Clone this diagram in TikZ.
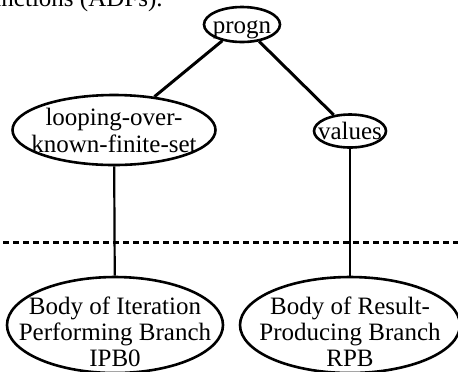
\documentclass[tikz,border=0pt]{standalone}
\usepackage{fontspec}
\setmainfont{Liberation Serif}
\usetikzlibrary{shapes.geometric}

\begin{document}
\begin{tikzpicture}[x=0.5pt, y=-0.5pt,
  fn/.style={draw=black, line width=1.3pt, shape=ellipse, inner sep=0pt},
  txt/.style={inner sep=0pt, align=center, font=\fontsize{12.5}{13.5}\selectfont},
  branch/.style={line width=1.5pt},
  body/.style={line width=1.1pt}]
\useasboundingbox (0, 0) rectangle (458, 371);

\path (163, 6) node[txt, anchor=base east] (adfs) {functions (ADFs).};

\path (242, 24.5) node[fn, minimum width=38pt, minimum height=17.5pt, label={[txt, yshift=-2.5pt]center:progn}] (progn) {};
\path (114, 130) node[fn, minimum width=101.5pt, minimum height=35pt, label={[txt]center:looping-over-\\known-finite-set}] (loop) {};
\path (350, 131) node[fn, minimum width=36pt, minimum height=16.5pt, label={[txt]center:values}] (values) {};

\path (115, 325) node[fn, minimum width=108pt, minimum height=48pt, label={[txt, yshift=-3.5pt, font=\fontsize{12.5}{13}\selectfont]center:Body of Iteration\\Performing Branch\\IPB0}] (iter) {};
\path (350, 325) node[fn, minimum width=110pt, minimum height=48pt, label={[txt, yshift=-3.5pt, font=\fontsize{12.5}{13}\selectfont]center:Body of Result-\\Producing Branch\\RPB}] (result) {};

\draw[branch] (progn) -- (loop);
\draw[branch] (progn) -- (values);
\draw[body] (loop) -- (iter);
\draw[body] (values) -- (result);

% cut between the trees and the bodies
\coordinate (cutL) at (3, 242);
\coordinate (cutR) at (458, 242);
\draw[line width=1.5pt, dash pattern=on 3pt off 2pt] (cutL) -- (cutR);
\end{tikzpicture}
\end{document}
